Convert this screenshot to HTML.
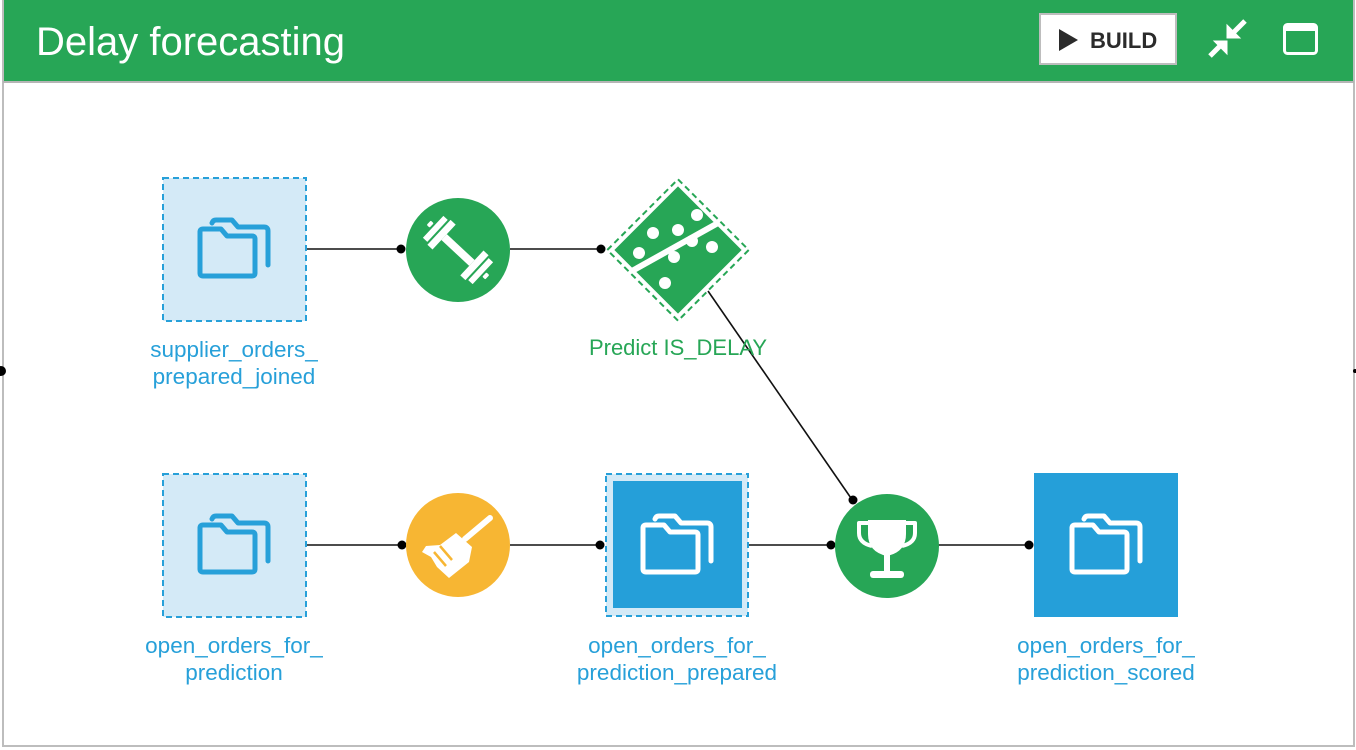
<!DOCTYPE html>
<html>
<head>
<meta charset="utf-8">
<style>
  html,body{margin:0;padding:0;background:#fff;}
  body{width:1356px;height:750px;overflow:hidden;}
  svg{display:block;}
  text{font-family:"Liberation Sans",sans-serif;}
</style>
</head>
<body>
<svg width="1356" height="750" viewBox="0 0 1356 750" xmlns="http://www.w3.org/2000/svg">
  <defs>
    <g id="folder" fill="none" stroke-linejoin="round" stroke-linecap="round" stroke-width="5">
      <path d="M-22,-26 Q-21,-29 -18,-29 H-2 L4,-22 H30 Q34,-22 34,-18 V16"/>
      <path d="M-34,24 V-17 Q-34,-20 -31,-20 H-13 L-7,-13 H18 Q21,-13 21,-10 V24 Q21,27 18,27 H-31 Q-34,27 -34,24 Z"/>
    </g>
  </defs>

  <!-- frame -->
  <rect x="3" y="-2" width="1351" height="748" fill="#fff" stroke="#bdbdbd" stroke-width="2"/>
  <rect x="4" y="0" width="1349" height="81" fill="#27a656"/>
  <line x1="3" y1="82" x2="1354" y2="82" stroke="#b5b5b5" stroke-width="2"/>

  <!-- header -->
  <text x="36" y="55" font-size="40" fill="#fff">Delay forecasting</text>
  <rect x="1040" y="14" width="136" height="50" fill="#fff" stroke="#bdbdbd" stroke-width="2"/>
  <polygon points="1059,29 1059,51 1078,40" fill="#2b2b2b"/>
  <text x="1090" y="48" font-size="22" font-weight="bold" fill="#2b2b2b">BUILD</text>
  <!-- collapse icon -->
  <g fill="#fff" stroke="#fff">
    <line x1="1245" y1="21" x2="1233" y2="33" stroke-width="5"/>
    <polygon points="1227,25 1227,38 1240,38" stroke-width="1"/>
    <line x1="1210" y1="56" x2="1221" y2="45" stroke-width="5"/>
    <polygon points="1214,41 1227,41 1227,54" stroke-width="1"/>
  </g>
  <!-- window icon -->
  <rect x="1284.5" y="24.5" width="32" height="29" rx="3" fill="none" stroke="#fff" stroke-width="3"/>
  <rect x="1284" y="24" width="33" height="7" rx="2" fill="#fff"/>

  <!-- edge dots -->
  <circle cx="1" cy="371" r="5" fill="#000"/>
  <circle cx="1355" cy="371" r="2" fill="#000"/>

  <!-- connectors -->
  <g stroke="#111" stroke-width="1.6" fill="none">
    <line x1="307" y1="249" x2="402" y2="249"/>
    <line x1="510" y1="249" x2="602" y2="249"/>
    <line x1="708" y1="291" x2="853" y2="501"/>
    <line x1="307" y1="545" x2="402" y2="545"/>
    <line x1="510" y1="545" x2="600" y2="545"/>
    <line x1="749" y1="545" x2="831" y2="545"/>
    <line x1="938" y1="545" x2="1029" y2="545"/>
  </g>
  <g fill="#000">
    <circle cx="401" cy="249" r="4.5"/>
    <circle cx="601" cy="249" r="4.5"/>
    <circle cx="853" cy="500" r="4.5"/>
    <circle cx="402" cy="545" r="4.5"/>
    <circle cx="600" cy="545" r="4.5"/>
    <circle cx="831" cy="545" r="4.5"/>
    <circle cx="1029" cy="545" r="4.5"/>
  </g>

  <!-- node: supplier_orders_prepared_joined -->
  <rect x="163" y="178" width="143" height="143" fill="#d4eaf7" stroke="#27a0d9" stroke-width="2" stroke-dasharray="6,4"/>
  <use href="#folder" x="234" y="249" stroke="#27a0d9"/>
  <text x="234" y="357" font-size="22.5" fill="#27a0d9" text-anchor="middle">supplier_orders_</text>
  <text x="234" y="384" font-size="22.5" fill="#27a0d9" text-anchor="middle">prepared_joined</text>

  <!-- train recipe -->
  <circle cx="458" cy="250" r="52" fill="#27a656"/>
  <g transform="translate(458,250) rotate(43)" fill="#fff">
    <rect x="-19" y="-4" width="38" height="8"/>
    <rect x="-26" y="-17" width="7" height="34"/>
    <rect x="19" y="-17" width="7" height="34"/>
    <rect x="-34" y="-15" width="6" height="30"/>
    <rect x="28" y="-15" width="6" height="30"/>
    <rect x="-40" y="-3" width="4" height="6" rx="1"/>
    <rect x="36" y="-3" width="4" height="6" rx="1"/>
  </g>

  <!-- model diamond -->
  <g transform="translate(678,250) rotate(45)">
    <rect x="-50" y="-50" width="100" height="100" fill="none" stroke="#27a656" stroke-width="2" stroke-dasharray="6,4"/>
    <rect x="-45" y="-45" width="90" height="90" fill="#27a656"/>
  </g>
  <line x1="632" y1="271" x2="718" y2="223" stroke="#fff" stroke-width="6"/>
  <g fill="#fff">
    <circle cx="639" cy="253" r="6"/>
    <circle cx="653" cy="233" r="6"/>
    <circle cx="678" cy="230" r="6"/>
    <circle cx="697" cy="215" r="6"/>
    <circle cx="692" cy="241" r="6"/>
    <circle cx="674" cy="257" r="6"/>
    <circle cx="712" cy="247" r="6"/>
    <circle cx="665" cy="283" r="6"/>
  </g>
  <text x="678" y="355" font-size="22" fill="#27a656" text-anchor="middle">Predict IS_DELAY</text>

  <!-- node: open_orders_for_prediction -->
  <rect x="163" y="474" width="143" height="143" fill="#d4eaf7" stroke="#27a0d9" stroke-width="2" stroke-dasharray="6,4"/>
  <use href="#folder" x="234" y="545" stroke="#27a0d9"/>
  <text x="234" y="653" font-size="22.5" fill="#27a0d9" text-anchor="middle">open_orders_for_</text>
  <text x="234" y="680" font-size="22.5" fill="#27a0d9" text-anchor="middle">prediction</text>

  <!-- prepare recipe (broom) -->
  <circle cx="458" cy="545" r="52" fill="#f7b633"/>
  <g fill="#fff">
    <line x1="490" y1="518" x2="465" y2="539" stroke="#fff" stroke-width="6" stroke-linecap="round"/>
    <polygon points="456,533 472,547 469,562 449,578 437,567 431,557 422,552 426,546 440,545"/>
  </g>
  <g stroke="#f7b633" stroke-width="2.5">
    <line x1="440" y1="546" x2="452" y2="560"/>
    <line x1="434" y1="552" x2="446" y2="566"/>
  </g>

  <!-- node: open_orders_for_prediction_prepared -->
  <rect x="606" y="474" width="142" height="142" fill="#d4eaf7" stroke="#27a0d9" stroke-width="2" stroke-dasharray="6,4"/>
  <rect x="613" y="481" width="129" height="127" fill="#259fd9"/>
  <use href="#folder" x="677" y="545" stroke="#fff"/>
  <text x="677" y="653" font-size="22.5" fill="#27a0d9" text-anchor="middle">open_orders_for_</text>
  <text x="677" y="680" font-size="22.5" fill="#27a0d9" text-anchor="middle">prediction_prepared</text>

  <!-- score recipe (trophy) -->
  <circle cx="887" cy="546" r="52" fill="#27a656"/>
  <g fill="#fff">
    <path d="M868,520 H906 V534 Q906,552 887,556 Q868,552 868,534 Z"/>
    <rect x="884" y="554" width="6" height="18"/>
    <rect x="870" y="571" width="34" height="7" rx="3"/>
  </g>
  <g fill="none" stroke="#fff" stroke-width="4" stroke-linejoin="round">
    <path d="M869,523 H859 V533 Q859,543 872,546"/>
    <path d="M905,523 H915 V533 Q915,543 902,546"/>
  </g>

  <!-- node: open_orders_for_prediction_scored -->
  <rect x="1034" y="473" width="144" height="144" fill="#259fd9"/>
  <use href="#folder" x="1106" y="545" stroke="#fff"/>
  <text x="1106" y="653" font-size="22.5" fill="#27a0d9" text-anchor="middle">open_orders_for_</text>
  <text x="1106" y="680" font-size="22.5" fill="#27a0d9" text-anchor="middle">prediction_scored</text>
</svg>
</body>
</html>
